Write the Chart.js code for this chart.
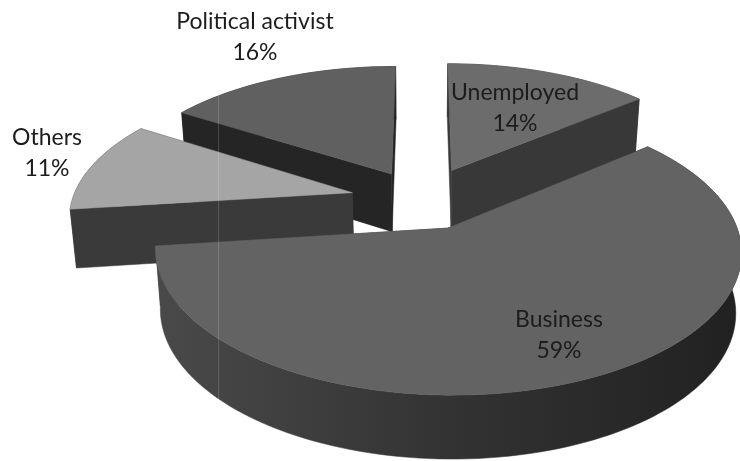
<!DOCTYPE html>
<html>
<head>
<meta charset="utf-8">
<title>Occupation</title>
<script src="https://cdn.jsdelivr.net/npm/chart.js@4/dist/chart.umd.min.js"></script>
<style>
  html, body { margin: 0; padding: 0; background: #fff; }
  canvas { display: block; }
</style>
</head>
<body>
<canvas id="myChart" width="740" height="461"></canvas>
<script>
// Datos del grafico
const categories = ['Unemployed', 'Business', 'Others', 'Political activist'];
const shares = [14, 59, 11, 16];

// Estilos de cada porcion
const topColors = ['#6c6c6c', '#636363', '#a5a5a5', '#606060'];
const wallColors = ['#383838', null, '#3a3a3a', '#252525'];
const sliceOffsets = [72, 63, 72, 65];
const labelPlaces = [[515, 93], [559, 320], [47, 138], [255, 22]];

// Vista de la torta 3D
const tiltSin = 0.47;
const tiltCos = 0.883;
const focal = 1600;
const wallDrop = 58.5;
const floorShrink = 0.982;

function project(cx, cy, u, v) {
  const s = focal / (focal - v * tiltCos);
  const x = cx + u * s;
  const y = cy + v * tiltSin * s;
  return { x: x, y: y, bx: cx + (x - cx) * floorShrink, by: y + wallDrop + v * 0.016 };
}

// Puntos del borde de una porcion sobre el plano de la torta
function slicePoints(arc) {
  const mid = (arc.startAngle + arc.endAngle) / 2;
  const off = arc.options.offset;
  const ou = Math.cos(mid) * off;
  const ov = Math.sin(mid) * off;
  const steps = Math.ceil((arc.endAngle - arc.startAngle) / 0.03);
  const rim = [];
  for (let i = 0; i <= steps; i++) {
    const a = arc.startAngle + (arc.endAngle - arc.startAngle) * i / steps;
    const u = ou + Math.cos(a) * arc.outerRadius;
    const v = ov + Math.sin(a) * arc.outerRadius;
    rim.push(Object.assign(project(arc.x, arc.y, u, v), { v: v }));
  }
  const apex = Object.assign(project(arc.x, arc.y, ou, ov), { v: ov });
  return { apex: apex, rim: rim };
}

function fillWall(ctx, pts) {
  ctx.beginPath();
  pts.forEach((p, i) => { if (i === 0) ctx.moveTo(p.x, p.y); else ctx.lineTo(p.x, p.y); });
  for (let i = pts.length - 1; i >= 0; i--) ctx.lineTo(pts[i].bx, pts[i].by);
  ctx.closePath();
  ctx.fill();
  ctx.stroke();
}

const pie3d = {
  id: 'pie3d',
  beforeDatasetsDraw(chart) {
    const ctx = chart.ctx;
    const arcs = chart.getDatasetMeta(0).data;

    // de atras hacia adelante
    const order = arcs.map((arc, i) => ({ arc: arc, i: i, pts: slicePoints(arc) }));
    order.sort((a, b) => a.pts.apex.v - b.pts.apex.v);

    order.forEach(item => {
      const { apex, rim } = item.pts;
      const last = rim[rim.length - 1];
      let wall = wallColors[item.i];
      if (!wall) {
        wall = ctx.createLinearGradient(150, 0, 740, 0);
        wall.addColorStop(0, '#4a4a4a');
        wall.addColorStop(0.5, '#333333');
        wall.addColorStop(1, '#212121');
      }
      ctx.fillStyle = wall;
      ctx.strokeStyle = wall;
      ctx.lineWidth = 0.5;

      // paredes de los cortes y pared exterior
      const cuts = [[apex, rim[0]], [apex, last]];
      cuts.sort((a, b) => (a[1].v - b[1].v));
      cuts.forEach(c => fillWall(ctx, c));
      fillWall(ctx, rim);

      // cara superior
      ctx.fillStyle = item.arc.options.backgroundColor;
      ctx.strokeStyle = item.arc.options.backgroundColor;
      ctx.beginPath();
      ctx.moveTo(apex.x, apex.y);
      rim.forEach(p => ctx.lineTo(p.x, p.y));
      ctx.closePath();
      ctx.fill();
      ctx.stroke();
    });

    // linea clara vertical que cruza la torta
    ctx.strokeStyle = 'rgba(255,255,255,0.16)';
    ctx.lineWidth = 1;
    ctx.beginPath();
    ctx.moveTo(218.5, 60);
    ctx.lineTo(218.5, 400);
    ctx.stroke();

    // etiquetas
    ctx.fillStyle = '#1c1c1c';
    ctx.font = '23px Lato';
    ctx.textAlign = 'center';
    ctx.textBaseline = 'middle';
    categories.forEach((name, i) => {
      ctx.fillText(name, labelPlaces[i][0], labelPlaces[i][1]);
      ctx.fillText(shares[i] + '%', labelPlaces[i][0], labelPlaces[i][1] + 31);
    });
    return false;
  }
};

const ctx = document.getElementById('myChart').getContext('2d');
const myChart = new Chart(ctx, {
  type: 'pie',
  data: {
    labels: categories,
    datasets: [{
      data: shares,
      backgroundColor: topColors,
      offset: sliceOffsets,
      borderWidth: 0
    }]
  },
  options: {
    responsive: false,
    animation: false,
    radius: 280,
    layout: { padding: { left: 104, bottom: 61 } },
    plugins: {
      legend: { display: false },
      tooltip: { enabled: false }
    }
  },
  plugins: [pie3d]
});
</script>
</body>
</html>
